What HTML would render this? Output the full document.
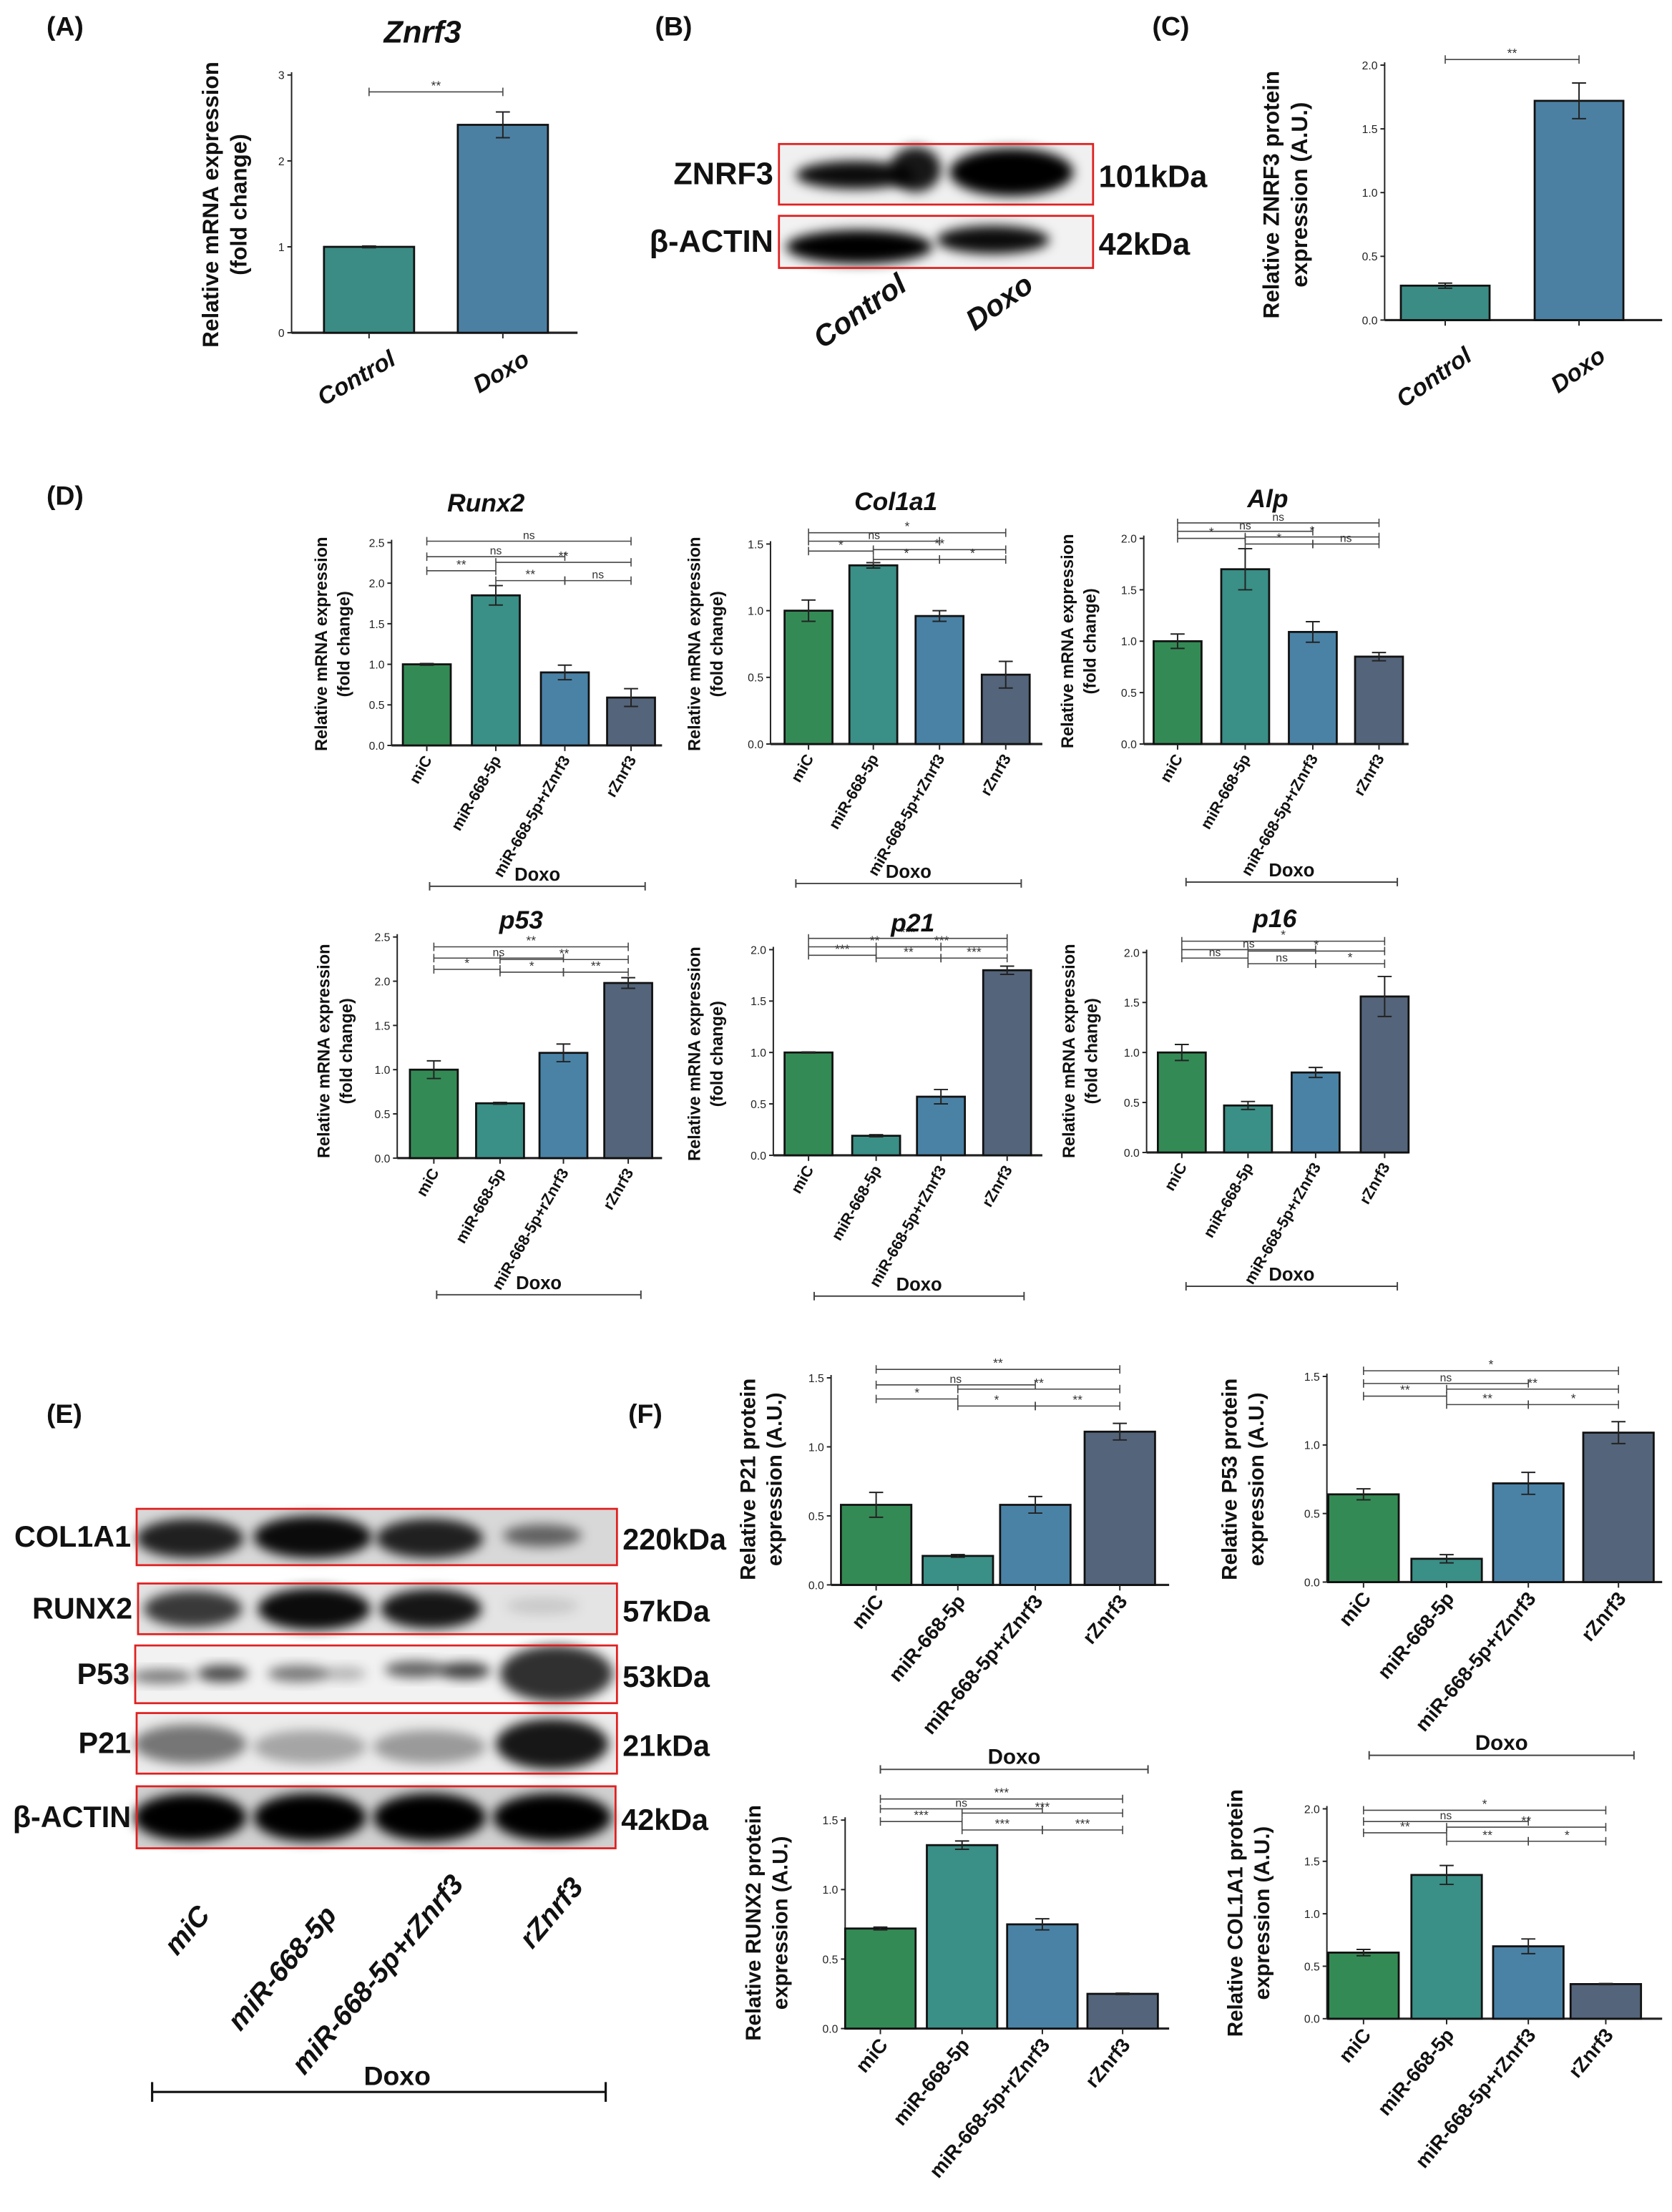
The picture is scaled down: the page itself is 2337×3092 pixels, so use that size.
<!DOCTYPE html>
<html><head><meta charset="utf-8">
<style>
html,body{margin:0;padding:0;background:#fff;}
svg{display:block;font-family:"Liberation Sans",sans-serif;}
.b{font-weight:bold;}
.n{font-family:"Liberation Sans Narrow","Liberation Sans",sans-serif;font-weight:bold;}
</style></head>
<body>
<svg id="fig" width="2337" height="3092" viewBox="0 0 1187 1570" xmlns="http://www.w3.org/2000/svg">
<defs>
<filter id="blur" x="-20%" y="-50%" width="140%" height="200%"><feGaussianBlur stdDeviation="4"/></filter>
</defs>
<g id="root"></g>
</svg>
<script>
// ---------- data ----------
const groupsA = ["Control","Doxo"];
const valsA = [1.0, 2.42];
const errsA = [0.01, 0.15];
const valsC = [0.27, 1.72];
const errsC = [0.02, 0.14];
const groupsD = ["miC","miR-668-5p","miR-668-5p+rZnrf3","rZnrf3"];
const valsRunx2 = [1.0, 1.85, 0.9, 0.59];
const errsRunx2 = [0.01, 0.12, 0.09, 0.11];
const valsCol1a1 = [1.0, 1.34, 0.96, 0.52];
const errsCol1a1 = [0.08, 0.02, 0.04, 0.1];
const valsAlp = [1.0, 1.7, 1.09, 0.85];
const errsAlp = [0.07, 0.2, 0.1, 0.04];
const valsP53 = [1.0, 0.62, 1.19, 1.98];
const errsP53 = [0.1, 0.01, 0.1, 0.06];
const valsP21 = [1.0, 0.19, 0.57, 1.8];
const errsP21 = [0.005, 0.01, 0.07, 0.04];
const valsP16 = [1.0, 0.47, 0.8, 1.56];
const errsP16 = [0.08, 0.04, 0.05, 0.2];
const valsP21prot = [0.58, 0.21, 0.58, 1.11];
const errsP21prot = [0.09, 0.01, 0.06, 0.06];
const valsP53prot = [0.64, 0.17, 0.72, 1.09];
const errsP53prot = [0.04, 0.03, 0.08, 0.08];
const valsRunx2prot = [0.72, 1.32, 0.75, 0.25];
const errsRunx2prot = [0.01, 0.03, 0.04, 0.005];
const valsCol1a1prot = [0.63, 1.37, 0.69, 0.33];
const errsCol1a1prot = [0.03, 0.09, 0.07, 0.005];
const ticks25 = ["0.0","0.5","1.0","1.5","2.0","2.5"];
const ticks20 = ["0.0","0.5","1.0","1.5","2.0"];
const ticks15 = ["0.0","0.5","1.0","1.5"];
const ticks3 = ["0","1","2","3"];

const NS="http://www.w3.org/2000/svg";
const root=document.getElementById('root');
function el(tag,attrs,parent,text){const e=document.createElementNS(NS,tag);for(const k in attrs)e.setAttribute(k,attrs[k]);if(text!==undefined)e.textContent=text;(parent||root).appendChild(e);return e;}
const C4=["#348a55","#3a8f86","#4a82a6","#54647a"];
const C2=["#3b8c84","#4c80a2"];

function chart(o){
  const g=el('g',{});
  
  
  const ymax=parseFloat(o.ticks[o.ticks.length-1]);
  const y=v=>o.y0-(v/ymax)*(o.y0-o.yTop);
  // axis
  const ax=el('line',{x1:o.ax,y1:o.yTop-2,x2:o.ax,y2:o.y0,stroke:'#222','stroke-width':1},g);
  
  const xa=el('line',{x1:o.ax,y1:o.y0,x2:o.xEnd,y2:o.y0,stroke:'#222','stroke-width':1.6},g);
  
  o.ticks.forEach(t=>{const v=parseFloat(t);
    el('line',{x1:o.ax-3,x2:o.ax,y1:y(v),y2:y(v),stroke:'#222','stroke-width':1},g);
    const tl=el('text',{x:o.ax-5,y:y(v)+3,'font-size':o.tfs||8,'text-anchor':'end',fill:'#222'},g,t);
    
  });
  o.vals.forEach((v,i)=>{
    const cx=o.cx[i];
    const r=el('rect',{x:cx-o.bw/2,y:y(v),width:o.bw,height:o.y0-y(v),fill:o.colors[i],stroke:'#111','stroke-width':1.4},g);
    
    
    const e=o.errs[i];
    el('line',{x1:cx,x2:cx,y1:y(v+e),y2:y(v-e),stroke:'#222','stroke-width':1},g);
    el('line',{x1:cx-5,x2:cx+5,y1:y(v+e),y2:y(v+e),stroke:'#222','stroke-width':1},g);
    el('line',{x1:cx-5,x2:cx+5,y1:y(v-e),y2:y(v-e),stroke:'#222','stroke-width':1},g);
    el('line',{x1:cx,x2:cx,y1:o.y0,y2:o.y0+4,stroke:'#222','stroke-width':1},g);
    const lx=cx+(o.lxo||4), ly=o.y0+(o.lyo||12);
    const t=el('text',{x:lx,y:ly,'font-size':o.lfs||11,'text-anchor':'end','font-weight':'bold','font-style':o.italic?'italic':'normal',transform:`rotate(${o.rot||-50} ${lx} ${ly})`,fill:'#111'},g,o.labels[i]);
    
  });
  (o.brackets||[]).forEach(b=>{
    const x1=o.cx[b[0]],x2=o.cx[b[1]],by=b[2];
    el('line',{x1:x1,x2:x2,y1:by,y2:by,stroke:'#444','stroke-width':0.8},g);
    el('line',{x1:x1,x2:x1,y1:by-3,y2:by+3,stroke:'#444','stroke-width':0.8},g);
    el('line',{x1:x2,x2:x2,y1:by-3,y2:by+3,stroke:'#444','stroke-width':0.8},g);
    const st=el('text',{x:(x1+x2)/2,y:by-1.5,'font-size':b[3]==='ns'?8:9,'text-anchor':'middle',fill:'#333'},g,b[3]);
    
  });
  if(o.title){const t=el('text',{x:o.title[1],y:o.title[2],'font-size':o.title[3]||18,'font-weight':'bold','font-style':'italic','text-anchor':'middle',fill:'#111'},g,o.title[0]);
    }
  o.ylab.forEach((s,k)=>{const lx=o.ylx+k*(o.ylfs+4), ly=o.yly;
    const t=el('text',{x:lx,y:ly,'font-size':o.ylfs,'font-weight':'bold','text-anchor':'middle',transform:`rotate(-90 ${lx} ${ly})`,fill:'#111',class:'n'},g,s);
    });
  if(o.doxo){const d=o.doxo;
    el('line',{x1:d[0],x2:d[1],y1:d[2],y2:d[2],stroke:'#444','stroke-width':1},g);
    el('line',{x1:d[0],x2:d[0],y1:d[2]-3,y2:d[2]+3,stroke:'#444','stroke-width':1},g);
    el('line',{x1:d[1],x2:d[1],y1:d[2]-3,y2:d[2]+3,stroke:'#444','stroke-width':1},g);
    const t=el('text',{x:(d[0]+d[1])/2,y:d[2]-4,'font-size':d[3]||13,'font-weight':'bold','text-anchor':'middle',fill:'#111'},g,'Doxo');
    }
}
function panelLabel(s,x,y){const t=el('text',{x:x,y:y,'font-size':19,'font-weight':'bold',fill:'#111',class:'n'},root,s);
  }

panelLabel('(A)',33,25);panelLabel('(B)',465,25);panelLabel('(C)',818,25);panelLabel('(D)',33,358);panelLabel('(E)',33,1010);panelLabel('(F)',446,1010);

// A
chart({name:'chart-znrf3-mrna',ax:207,y0:236,yTop:53,xEnd:410,ticks:ticks3,vals:valsA,errs:errsA,cx:[262,357],bw:64,colors:C2,labels:groupsA,
  rot:-30,lfs:17,italic:true,lxo:20,lyo:22,title:['Znrf3',300,30,22],ylab:['Relative mRNA expression','(fold change)'],ylx:155,yly:145,ylfs:16,
  brackets:[[0,1,65,'**']]});
// C
chart({name:'chart-znrf3-protein',ax:983,y0:227,yTop:46,xEnd:1180,ticks:ticks20,vals:valsC,errs:errsC,cx:[1026,1121],bw:63,colors:C2,labels:groupsA,
  rot:-35,lfs:17,italic:true,lxo:20,lyo:28,ylab:['Relative ZNRF3  protein','expression (A.U.)'],ylx:908,yly:138,ylfs:16,
  brackets:[[0,1,42,'**']]});

// D
const dCommon={bw:34,colors:C4,labels:groupsD,rot:-60,lfs:11,lxo:4,lyo:10,ylab:['Relative mRNA expression','(fold change)'],ylfs:12};
chart(Object.assign({},dCommon,{name:'chart-runx2',ax:278,y0:529,yTop:385,xEnd:470,ticks:ticks25,vals:valsRunx2,errs:errsRunx2,cx:[303,352,401,448],
  title:['Runx2',345,363,18],ylx:232,yly:457,doxo:[305,458,629],
  brackets:[[0,3,384,'ns'],[0,2,395,'ns'],[0,1,405,'**'],[1,3,399,'**'],[1,2,412,'**'],[2,3,412,'ns']]}));
chart(Object.assign({},dCommon,{name:'chart-col1a1',ax:547,y0:528,yTop:386,xEnd:740,ticks:ticks15,vals:valsCol1a1,errs:errsCol1a1,cx:[574,620,667,714],
  title:['Col1a1',636,362,18],ylx:497,yly:457,doxo:[565,725,627],
  brackets:[[0,3,378,'*'],[0,2,384,'ns'],[0,1,391,'*'],[1,3,390,'**'],[1,2,397,'*'],[2,3,397,'*']]}));
chart(Object.assign({},dCommon,{name:'chart-alp',ax:812,y0:528,yTop:382,xEnd:1000,ticks:ticks20,vals:valsAlp,errs:errsAlp,cx:[836,884,932,979],
  title:['Alp',900,360,18],ylx:762,yly:455,doxo:[842,992,626],
  brackets:[[0,3,371,'ns'],[0,2,377,'ns'],[0,1,382,'*'],[1,3,381,'*'],[1,2,386,'*'],[2,3,386,'ns']]}));
chart(Object.assign({},dCommon,{name:'chart-p53',ax:282,y0:822,yTop:665,xEnd:470,ticks:ticks25,vals:valsP53,errs:errsP53,cx:[308,355,400,446],
  title:['p53',370,659,18],ylx:234,yly:746,doxo:[310,455,919],
  brackets:[[0,3,672,'**'],[0,2,680,'ns'],[0,1,688,'*'],[1,3,681,'**'],[1,2,690,'*'],[2,3,690,'**']]}));
chart(Object.assign({},dCommon,{name:'chart-p21',ax:549,y0:820,yTop:674,xEnd:740,ticks:ticks20,vals:valsP21,errs:errsP21,cx:[574,622,668,715],
  title:['p21',648,661,18],ylx:497,yly:748,doxo:[578,727,920],
  brackets:[[0,3,666,'***'],[0,2,672,'**'],[0,1,678,'***'],[1,3,672,'***'],[1,2,680,'**'],[2,3,680,'***']]}));
chart(Object.assign({},dCommon,{name:'chart-p16',ax:814,y0:818,yTop:676,xEnd:1000,ticks:ticks20,vals:valsP16,errs:errsP16,cx:[839,886,934,983],
  title:['p16',905,658,18],ylx:763,yly:746,doxo:[842,992,913],
  brackets:[[0,3,668,'*'],[0,2,674,'ns'],[0,1,680,'ns'],[1,3,675,'*'],[1,2,684,'ns'],[2,3,684,'*']]}));

// F
const fCommon={bw:50,colors:C4,labels:groupsD,rot:-50,lfs:14,lxo:6,lyo:12,ylfs:15};
chart(Object.assign({},fCommon,{name:'chart-p21-protein',ax:590,y0:1125,yTop:978,xEnd:830,ticks:ticks15,vals:valsP21prot,errs:errsP21prot,cx:[622,680,735,795],
  ylab:['Relative P21  protein','expression (A.U.)'],ylx:536,yly:1050,doxo:[625,815,1256,15],
  brackets:[[0,3,972,'**'],[0,2,983,'ns'],[0,1,993,'*'],[1,3,986,'**'],[1,2,998,'*'],[2,3,998,'**']]}));
chart(Object.assign({},fCommon,{name:'chart-p53-protein',ax:942,y0:1123,yTop:977,xEnd:1180,ticks:ticks15,vals:valsP53prot,errs:errsP53prot,cx:[968,1027,1085,1149],
  ylab:['Relative P53  protein','expression (A.U.)'],ylx:878,yly:1050,doxo:[972,1160,1246,15],
  brackets:[[0,3,973,'*'],[0,2,982,'ns'],[0,1,991,'**'],[1,3,986,'**'],[1,2,997,'**'],[2,3,997,'*']]}));
chart(Object.assign({},fCommon,{name:'chart-runx2-protein',ax:600,y0:1440,yTop:1292,xEnd:830,ticks:ticks15,vals:valsRunx2prot,errs:errsRunx2prot,cx:[625,683,740,797],
  ylab:['Relative RUNX2 protein','expression (A.U.)'],ylx:540,yly:1365,doxo:[628,820,1586,15],
  brackets:[[0,3,1277,'***'],[0,2,1284,'ns'],[0,1,1293,'***'],[1,3,1287,'***'],[1,2,1299,'***'],[2,3,1299,'***']]}));
chart(Object.assign({},fCommon,{name:'chart-col1a1-protein',ax:942,y0:1433,yTop:1284,xEnd:1180,ticks:ticks20,vals:valsCol1a1prot,errs:errsCol1a1prot,cx:[968,1027,1085,1140],
  ylab:['Relative COL1A1 protein','expression (A.U.)'],ylx:882,yly:1358,doxo:[982,1170,1587,15],
  brackets:[[0,3,1285,'*'],[0,2,1293,'ns'],[0,1,1301,'**'],[1,3,1297,'**'],[1,2,1307,'**'],[2,3,1307,'*']]}));

// ---------- Western blots ----------
function blot(name,x,y,w,h,bands,bg,left,right,lfs){
  const g=el('g',{});
  
  el('rect',{x:x,y:y,width:w,height:h,fill:bg},g);
  bands.forEach(b=>{el('ellipse',{cx:b[0],cy:b[1],rx:b[2],ry:b[3],fill:'#000','fill-opacity':b[4],filter:'url(#blur)'},g);});
  el('rect',{x:x,y:y,width:w,height:h,fill:'none',stroke:'#e02020','stroke-width':1.4},g);
  const l=el('text',{x:x-4,y:y+h/2+7,'font-size':lfs||20,'text-anchor':'end',fill:'#111',class:'n'},g,left);
  
  const r=el('text',{x:x+w+4,y:y+h/2+9,'font-size':lfs||20,fill:'#111',class:'n'},g,right);
  
}
// B
blot('blot-znrf3',553,102,223,43,[[607,124,42,10,0.95],[650,120,18,16,0.9],[718,122,44,17,1]],'#f0f0f0','ZNRF3','101kDa',22);
blot('blot-actin-b',553,153,223,37,[[610,175,52,12,1],[705,170,40,10,0.95]],'#f2f2f2','β-ACTIN','42kDa',22);
[['Control',645,205],['Doxo',735,205]].forEach(a=>{const t=el('text',{x:a[1],y:a[2],'font-size':21,'font-weight':'bold','font-style':'italic','text-anchor':'end',transform:`rotate(-35 ${a[1]} ${a[2]})`,fill:'#111'},root,a[0]);
  });
// E
const lanes=[135,220,305,385];
blot('blot-col1a1',97,1071,341,40,[[135,1092,38,14,0.85],[222,1091,42,15,0.95],[305,1092,38,14,0.85],[385,1090,28,8,0.55]],'#d8d8d8','COL1A1','220kDa',21);
blot('blot-runx2',98,1124,340,36,[[137,1142,35,13,0.75],[223,1142,40,15,0.95],[306,1142,36,14,0.9],[385,1140,26,6,0.12]],'#e4e4e4','RUNX2','57kDa',21);
blot('blot-p53',96,1168,342,41,[[115,1190,22,5,0.5],[158,1188,18,6,0.7],[212,1188,22,6,0.5],[245,1188,15,5,0.25],[295,1185,22,6,0.6],[330,1186,18,6,0.75],[395,1188,40,20,0.8]],'#f2f2f2','P53','53kDa',21);
blot('blot-p21',97,1216,341,43,[[135,1238,40,14,0.5],[220,1240,40,12,0.3],[305,1240,40,12,0.35],[392,1238,40,18,0.9]],'#ececec','P21','21kDa',21);
blot('blot-actin-e',97,1268,340,44,[[135,1290,40,17,1],[220,1290,40,17,1],[305,1290,40,17,1],[392,1290,42,17,1]],'#d0d0d0','β-ACTIN','42kDa',21);
groupsD.forEach((s,i)=>{const x=[150,240,330,415][i],y=[1360,1360,1338,1340][i];
  const t=el('text',{x:x,y:y,'font-size':20,'font-weight':'bold','font-style':'italic','text-anchor':'end',transform:`rotate(-50 ${x} ${y})`,fill:'#111'},root,s);
  });
(function(){const g=el('g',{});
  el('line',{x1:108,x2:430,y1:1485,y2:1485,stroke:'#111','stroke-width':1.6},g);
  el('line',{x1:108,x2:108,y1:1478,y2:1492,stroke:'#111','stroke-width':1.6},g);
  el('line',{x1:430,x2:430,y1:1478,y2:1492,stroke:'#111','stroke-width':1.6},g);
  el('text',{x:282,y:1480,'font-size':19,'font-weight':'bold','text-anchor':'middle',fill:'#111'},g,'Doxo');})();
</script>
</body></html>
